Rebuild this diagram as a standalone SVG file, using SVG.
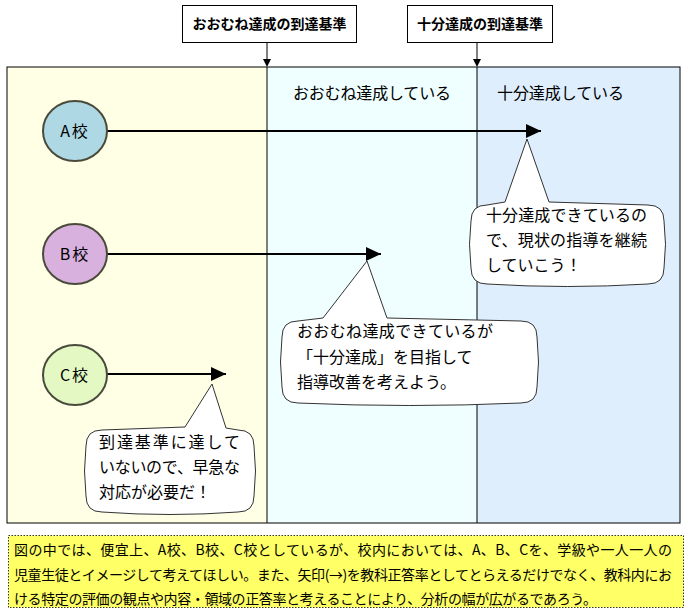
<svg xmlns="http://www.w3.org/2000/svg" width="688" height="615" viewBox="0 0 688 615">
<defs>
<style>
text{font-family:"Noto Sans CJK JP","Noto Sans",sans-serif;fill:#000}
.lbl{font-size:14px;font-weight:bold}
.sec{font-size:16px}
.co{font-size:16px}
.nt{font-size:14px}
.sch{font-size:16px}
.box{fill:#fff;stroke:#000;stroke-width:1}
.school{stroke:#4a4a3c;stroke-width:2}
.callout{fill:#fff;stroke:#333;stroke-width:1}
.arr{stroke:#000;stroke-width:2;fill:none;marker-end:url(#ah)}
</style>
<marker id="ah" markerUnits="userSpaceOnUse" markerWidth="15" markerHeight="14" refX="15" refY="7" orient="auto"><path d="M0,0 L15,7 L0,14 Z" fill="#000"/></marker>
</defs>

<g id="background">
<rect x="7" y="67" width="260" height="456" fill="#FFFFE5"/>
<rect x="267" y="67" width="210" height="456" fill="#EFFFFF"/>
<rect x="477" y="67" width="203" height="456" fill="#DFEEFD"/>
<rect x="7" y="67" width="673" height="456" fill="none" stroke="#000" stroke-width="1"/>
<line x1="267" y1="67" x2="267" y2="523" stroke="#000" stroke-width="1"/>
<line x1="477" y1="67" x2="477" y2="523" stroke="#000" stroke-width="1"/>
<text class="sec" x="293" y="99" textLength="158">おおむね達成している</text>
<text class="sec" x="497" y="99" textLength="127">十分達成している</text>
</g>

<g id="label-ohomune">
<rect class="box" x="182.5" y="5.5" width="174" height="37"/>
<text class="lbl" x="269.5" y="29" text-anchor="middle">おおむね達成の到達基準</text>
</g>
<g id="label-jubun">
<rect class="box" x="407.5" y="5.5" width="145" height="37"/>
<text class="lbl" x="480" y="29" text-anchor="middle">十分達成の到達基準</text>
</g>

<g id="connectors">
<line x1="267" y1="43" x2="267" y2="59" stroke="#000" stroke-width="1"/>
<path d="M263,59 L271,59 L267,67 Z" fill="#000"/>
<line x1="477" y1="43" x2="477" y2="59" stroke="#000" stroke-width="1"/>
<path d="M473,59 L481,59 L477,67 Z" fill="#000"/>
<line class="arr" x1="107" y1="131" x2="541" y2="131"/>
<line class="arr" x1="107" y1="254" x2="381" y2="254"/>
<line class="arr" x1="107" y1="374" x2="226" y2="374"/>
</g>

<g id="school-a">
<ellipse class="school" cx="75" cy="131" rx="32" ry="30" fill="#AED8E3"/>
<text class="sch" x="75" y="137" text-anchor="middle" letter-spacing="2">A校</text>
</g>
<g id="school-b">
<ellipse class="school" cx="75" cy="254" rx="32" ry="30" fill="#D9B1DF"/>
<text class="sch" x="75" y="260" text-anchor="middle" letter-spacing="2">B校</text>
</g>
<g id="school-c">
<ellipse class="school" cx="75" cy="375" rx="32" ry="30" fill="#E3F8C3"/>
<text class="sch" x="75" y="381" text-anchor="middle" letter-spacing="2">C校</text>
</g>

<g id="callout-a">
<path class="callout" d="M487,205 L505,202 L527,139 L549,202 L648,205 Q664,205 664,221 Q667,244 664,268 Q664,284 648,284 Q567,289 487,284 Q471,284 471,268 Q468,244 471,221 Q471,205 487,205 Z"/>
<text class="co" x="486" y="221" textLength="161">十分達成できているの</text>
<text class="co" x="486" y="246" textLength="161">で、現状の指導を継続</text>
<text class="co" x="486" y="271">していこう！</text>
</g>

<g id="callout-b">
<path class="callout" d="M298,321 L323,318 L367,261 L387,318 L521,321 Q537,321 537,337 Q540,362 537,387 Q537,403 521,403 Q410,408 298,403 Q282,403 282,387 Q279,362 282,337 Q282,321 298,321 Z"/>
<text class="co" x="297" y="337" textLength="196">おおむね達成できているが</text>
<text class="co" x="297" y="363">「十分達成」を目指して</text>
<text class="co" x="297" y="388">指導改善を考えよう。</text>
</g>

<g id="callout-c">
<path class="callout" d="M102,430 L185,427 L212,384 L226,428 L238,430 Q254,430 254,446 Q257,471 254,496 Q254,512 238,512 Q170,517 102,512 Q86,512 86,496 Q83,471 86,446 Q86,430 102,430 Z"/>
<text class="co" x="99" y="448" textLength="141">到達基準に達して</text>
<text class="co" x="99" y="473" textLength="141">いないので、早急な</text>
<text class="co" x="99" y="498">対応が必要だ！</text>
</g>

<g id="note">
<rect x="8.5" y="535.5" width="675" height="72" fill="#FFFF66" stroke="#333" stroke-width="1" stroke-dasharray="1.5,1.5"/>
<text class="nt" x="14" y="555" textLength="658">図の中では、便宜上、A校、B校、C校としているが、校内においては、A、B、Cを、学級や一人一人の</text>
<text class="nt" x="14" y="580" textLength="658">児童生徒とイメージして考えてほしい。また、矢印(→)を教科正答率としてとらえるだけでなく、教科内にお</text>
<text class="nt" x="14" y="604" textLength="583">ける特定の評価の観点や内容・領域の正答率と考えることにより、分析の幅が広がるであろう。</text>
</g>
</svg>
